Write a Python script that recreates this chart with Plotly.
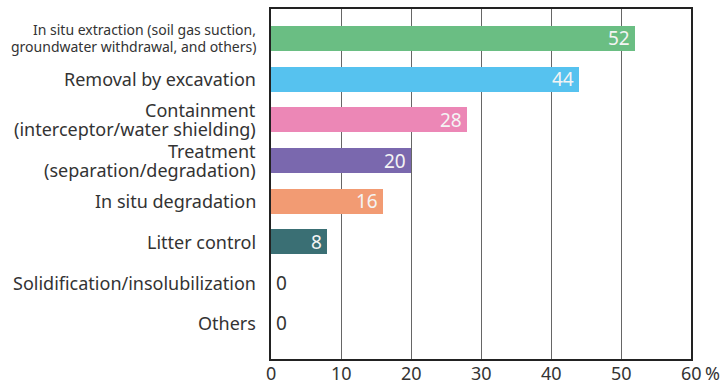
import plotly.graph_objects as go

categories = [
    "In situ extraction (soil gas suction,<br>groundwater withdrawal, and others)",
    "Removal by excavation",
    "Containment<br>(interceptor/water shielding)",
    "Treatment <br>(separation/degradation)",
    "In situ degradation",
    "Litter control",
    "Solidification/insolubilization",
    "Others",
]
values = [52, 44, 28, 20, 16, 8, 0, 0]
colors = ["#6abe83", "#56c2ef", "#ec87b6", "#7a68ae", "#f29b73", "#3a6f74", "#888888", "#888888"]
tick_vals = [0, 10, 20, 30, 40, 50, 60]
tick_text = ["0", "10", "20", "30", "40", "50", "60"]
unit_label = "%"

positions = list(range(len(categories)))
text_color = "#333333"
label_font = "Noto Sans, Open Sans, sans-serif"

fig = go.Figure()
fig.add_trace(go.Bar(
    x=values,
    y=positions,
    orientation="h",
    width=0.61,
    marker=dict(color=colors, line=dict(width=0)),
    cliponaxis=False,
    hoverinfo="skip",
))

annotations = []

# Category labels drawn line by line so the line spacing stays tight
for i, cat in enumerate(categories):
    lines = cat.split("<br>")
    if i == 0:
        size, step = 14, 17
    else:
        size, step = 18, 19
    n = len(lines)
    for j, line in enumerate(lines):
        offset = ((n - 1) / 2 - j) * step
        annotations.append(dict(
            x=0, xref="paper", y=i, yref="y",
            text=line.rstrip(), showarrow=False,
            xanchor="right", yanchor="middle",
            xshift=-13, yshift=offset,
            font=dict(size=size, family=label_font, color=text_color),
        ))

# Value labels: inside the bar end, or just right of the axis for zeros
for i, v in enumerate(values):
    inside = v > 0
    annotations.append(dict(
        x=v, xref="x", y=i, yref="y",
        text=str(v), showarrow=False,
        xanchor="right" if inside else "left", yanchor="middle",
        xshift=-3 if inside else 3,
        font=dict(size=19, family=label_font, color="#f4f4f4" if inside else text_color),
    ))

# X tick labels placed right under the axis line
for tv, tt in zip(tick_vals, tick_text):
    annotations.append(dict(
        x=tv, xref="x", y=0, yref="paper",
        text=tt, showarrow=False,
        xanchor="center", yanchor="top", yshift=0,
        font=dict(size=18, family=label_font, color=text_color),
    ))
annotations.append(dict(
    x=tick_vals[-1], xref="x", y=0, yref="paper",
    text=unit_label, showarrow=False,
    xanchor="left", yanchor="top", xshift=12,
    font=dict(size=18, family=label_font, color=text_color),
))

fig.update_layout(
    width=727,
    height=385,
    margin=dict(l=271, r=36, t=9, b=26),
    paper_bgcolor="white",
    plot_bgcolor="white",
    font=dict(family=label_font, color=text_color),
    showlegend=False,
    bargap=0,
    annotations=annotations,
)
fig.update_xaxes(
    range=[0, 60],
    tickvals=tick_vals,
    showticklabels=False,
    showgrid=True,
    gridcolor="#666666",
    gridwidth=1.3,
    zeroline=False,
    showline=True,
    linecolor="#222222",
    linewidth=1.5,
    mirror=True,
    ticks="",
    automargin=False,
)
fig.update_yaxes(
    range=[7.88, -0.725],
    tickvals=positions,
    showticklabels=False,
    showgrid=False,
    zeroline=False,
    showline=True,
    linecolor="#222222",
    linewidth=1.5,
    mirror=True,
    ticks="",
    automargin=False,
)

fig.write_html("out.html")
